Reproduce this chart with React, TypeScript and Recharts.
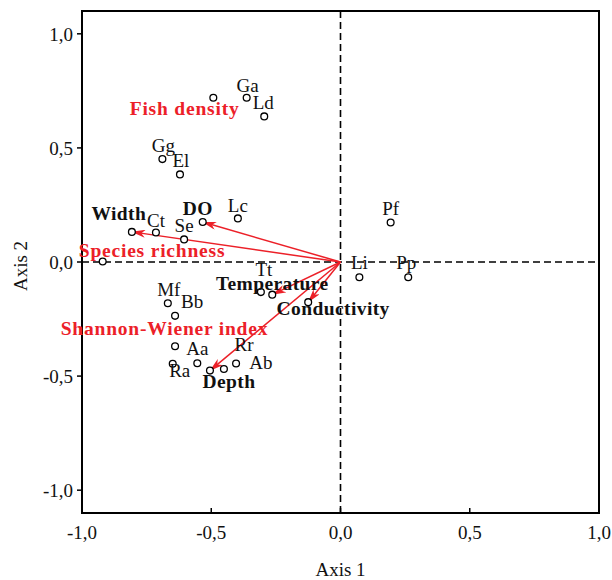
import React from 'react';
import { ScatterChart, Scatter, XAxis, YAxis, ReferenceLine, ReferenceArea } from 'recharts';

const RED = '#ec2028';
const FONT = '"Liberation Serif", "Times New Roman", serif';

const axisTicks = [-1, -0.5, 0, 0.5, 1];

// species scores (Axis 1, Axis 2)
const speciesNames = ['Ga', 'Ld', 'Gg', 'El', 'Lc', 'Ct', 'Se', 'Pf', 'Li', 'Pp', 'Tt', 'Mf', 'Bb', 'Aa', 'Rr', 'Ab', 'Ra'];
const speciesAxis1 = [-0.363, -0.295, -0.689, -0.621, -0.397, -0.714, -0.605, 0.194, 0.073, 0.262, -0.308, -0.668, -0.640, -0.554, -0.404, -0.451, -0.649];
const speciesAxis2 = [0.720, 0.638, 0.451, 0.384, 0.191, 0.129, 0.099, 0.173, -0.067, -0.067, -0.132, -0.181, -0.236, -0.444, -0.445, -0.469, -0.446];

// unlabelled sites
const otherAxis1 = [-0.492, -0.920, -0.640];
const otherAxis2 = [0.720, 0.002, -0.369];

// environmental variables (arrows)
const variableNames = ['Width', 'DO', 'Temperature', 'Conductivity', 'Depth'];
const variableAxis1 = [-0.807, -0.533, -0.264, -0.125, -0.505];
const variableAxis2 = [0.132, 0.175, -0.143, -0.176, -0.476];

// response variables (red labels)
const responseNames = ['Fish density', 'Species richness', 'Shannon-Wiener index'];
const responseAxis1 = [-0.603, -0.729, -0.681];
const responseAxis2 = [0.646, 0.024, -0.318];

// label layout (pixel offsets of label baseline centre from the point)
const speciesLabelOffset: Record<string, [number, number]> = {
  Ga: [1, -6], Ld: [-1, -7], Gg: [1, -7], El: [1, -7], Lc: [0, -6], Ct: [0, -6], Se: [0, -7],
  Pf: [0, -8], Li: [0, -8], Pp: [-2, -8], Tt: [3, -16], Mf: [1, -7], Bb: [17, -8], Aa: [0, -8],
  Rr: [8, -13], Ab: [37, 0], Ra: [7, 13],
};
const variableLabelOffset: Record<string, [number, number]> = {
  Width: [-13, -11.5], DO: [-5, -7], Temperature: [0, -5], Conductivity: [25, 13], Depth: [19, 17],
};

const speciesData = speciesNames.map((name, i) => ({ name, x: speciesAxis1[i], y: speciesAxis2[i] }));
const otherData = otherAxis1.map((x, i) => ({ name: '', x, y: otherAxis2[i] }));
const variableData = variableNames.map((name, i) => ({ name, x: variableAxis1[i], y: variableAxis2[i] }));
const responseData = responseNames.map((name, i) => ({ name, x: responseAxis1[i], y: responseAxis2[i] }));

const fmt = (v: number) => v.toFixed(1).replace('.', ',');

const Circle = (props: any) => {
  const { cx, cy } = props;
  return <circle cx={cx} cy={cy} r={3.4} fill="#fff" stroke="#000" strokeWidth={1.3} />;
};

const SpeciesShape = (props: any) => {
  const { cx, cy, payload } = props;
  const off = speciesLabelOffset[payload.name] || [0, -7];
  return (
    <g>
      <circle cx={cx} cy={cy} r={3.4} fill="#fff" stroke="#000" strokeWidth={1.3} />
      <text x={cx + off[0]} y={cy + off[1]} textAnchor="middle" fontFamily={FONT} fontSize={19} fill="#111">
        {payload.name}
      </text>
    </g>
  );
};

const VariableShape = (props: any) => {
  const { cx, cy, payload } = props;
  const off = variableLabelOffset[payload.name] || [0, -7];
  return (
    <g>
      <circle cx={cx} cy={cy} r={3.4} fill="#fff" stroke="#000" strokeWidth={1.3} />
      <text x={cx + off[0]} y={cy + off[1]} textAnchor="middle" fontFamily={FONT} fontSize={19.5} fontWeight="bold" fill="#111" letterSpacing={0.4}>
        {payload.name}
      </text>
    </g>
  );
};

const ResponseShape = (props: any) => {
  const { cx, cy, payload } = props;
  return (
    <text x={cx} y={cy} textAnchor="middle" fontFamily={FONT} fontSize={19.5} fontWeight="bold" fill={RED} letterSpacing={0.8}>
      {payload.name}
    </text>
  );
};

const YTitle = () => {
  return (
    <text x={20} y={266} transform="rotate(-90 20 266)" textAnchor="middle" dominantBaseline="central" fontFamily={FONT} fontSize={19} fill="#111">
      Axis 2
    </text>
  );
};

export default function App() {
  return (
    <div style={{ position: 'absolute', left: 0, top: 0, background: '#fff' }}>
      <ScatterChart width={612} height={580} margin={{ top: 11, right: 13, bottom: 37, left: 22 }}>
        <defs>
          <marker id="arrowHead" viewBox="0 0 14 8" refX="13.5" refY="4" markerWidth="14" markerHeight="8" markerUnits="userSpaceOnUse" orient="auto">
            <path d="M0,0 L14,4 L0,8 L4,4 Z" fill={RED} />
          </marker>
        </defs>
        <XAxis
          type="number"
          dataKey="x"
          domain={[-1, 1]}
          ticks={axisTicks}
          tickFormatter={fmt}
          height={30}
          stroke="#000"
          tickSize={-5}
          tickMargin={17.5}
          tick={{ fontFamily: FONT, fontSize: 19, fill: '#111' }}
          axisLine={{ stroke: '#000', strokeWidth: 2 }}
          tickLine={{ stroke: '#000', strokeWidth: 1.5 }}
          label={{ value: 'Axis 1', position: 'bottom', offset: 19.5, style: { fontFamily: FONT, fontSize: 19, fill: '#111' } }}
        />
        <YAxis
          type="number"
          dataKey="y"
          domain={[-1.1, 1.1]}
          ticks={axisTicks}
          tickFormatter={fmt}
          width={60}
          tickSize={5}
          tickMargin={4}
          tick={{ fontFamily: FONT, fontSize: 19, fill: '#111' }}
          axisLine={{ stroke: '#000', strokeWidth: 2 }}
          tickLine={{ stroke: '#000', strokeWidth: 1.5 }}
          label={<YTitle />}
        />
        <YAxis
          yAxisId="right"
          orientation="right"
          type="number"
          domain={[-1.1, 1.1]}
          ticks={axisTicks}
          width={0}
          tickSize={-4}
          tick={false}
          axisLine={false}
          tickLine={{ stroke: '#000', strokeWidth: 1.5 }}
        />
        <ReferenceArea x1={-1} x2={1} y1={-1.1} y2={1.1} fill="none" fillOpacity={0} stroke="#000" strokeWidth={2} />
        <ReferenceLine x={0} stroke="#000" strokeWidth={1.6} strokeDasharray="7 4" />
        <ReferenceLine y={0} stroke="#000" strokeWidth={1.6} strokeDasharray="7 4" />
        <Scatter data={responseData} shape={ResponseShape} isAnimationActive={false} />
        <Scatter data={otherData} shape={Circle} isAnimationActive={false} />
        <Scatter data={speciesData} shape={SpeciesShape} isAnimationActive={false} />
        <Scatter data={variableData} shape={VariableShape} isAnimationActive={false} />
        {variableData.map((v) => (
          <ReferenceLine
            key={v.name}
            segment={[{ x: 0, y: 0 }, { x: v.x, y: v.y }]}
            stroke={RED}
            strokeWidth={1.5}
            markerEnd="url(#arrowHead)"
          />
        ))}
      </ScatterChart>
    </div>
  );
}
